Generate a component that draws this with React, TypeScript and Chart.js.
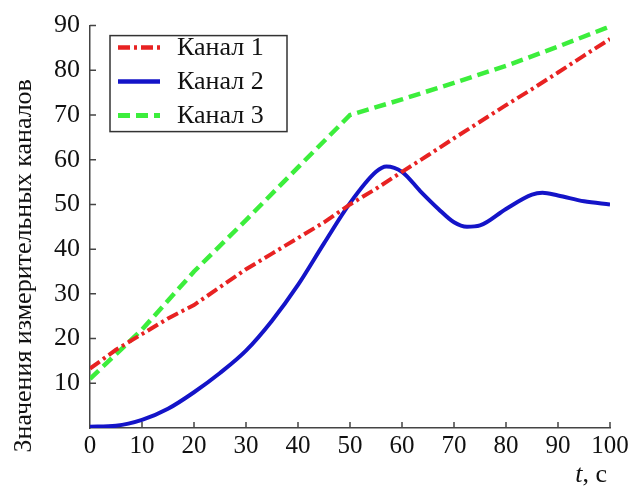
import { useEffect, useRef } from 'react';
import { Chart, registerables } from 'chart.js';

Chart.register(...registerables);

// Time grid, s
const tRed = [0, 5, 10, 15, 20, 25, 30, 35, 40, 45, 50, 55, 60, 65, 70, 75, 80, 85, 90, 95, 100];
const channel1 = [13.3, 17.5, 21, 24.5, 27.5, 31.5, 35.5, 39, 42.5, 46, 50, 53.5, 57.3, 61, 64.8, 68.5, 72.2, 75.8, 79.5, 83.3, 87];

const tBlue = [0, 5, 10, 15, 20, 25, 30, 35, 40, 45, 50, 55, 57, 60, 63.5, 67, 70, 72.5, 75, 80, 85, 87, 90, 95, 100];
const channel2 = [0.3, 0.5, 1.8, 4.3, 8, 12.3, 17.3, 24, 32, 41.3, 50.3, 57.3, 58.5, 57.3, 53, 49, 46, 45, 45.3, 49, 52.2, 52.6, 52, 50.7, 50];

const tGreen = [0, 10, 20, 30, 40, 50, 60, 70, 80, 90, 100];
const channel3 = [11, 22, 35, 46.5, 58.3, 70, 73.5, 77.2, 81, 85.3, 89.8];

const seriesNames = ['Канал 1', 'Канал 2', 'Канал 3'];
const xTicks = [0, 10, 20, 30, 40, 50, 60, 70, 80, 90, 100];
const yTicks = [10, 20, 30, 40, 50, 60, 70, 80, 90];

const yTitle = 'Значения измерительных каналов';

const SERIF = '"Liberation Serif", "DejaVu Serif", serif';
const AXIS_COLOR = '#444';
const TEXT_SIZE = 26;

const toPoints = (xs: number[], ys: number[]) => xs.map((x, i) => ({ x, y: ys[i] }));

// Inward tick marks, axis titles and a framed legend inside the plot area
const decorations = {
  id: 'decorations',
  afterDraw(chart: any) {
    const { ctx, chartArea, scales } = chart;
    const xs = scales.x;
    const ys = scales.y;
    ctx.save();

    // tick marks pointing into the plot
    ctx.strokeStyle = AXIS_COLOR;
    ctx.lineWidth = 1.5;
    ctx.beginPath();
    xTicks.forEach((v) => {
      if (v === 0) return;
      const px = xs.getPixelForValue(v);
      ctx.moveTo(px, chartArea.bottom);
      ctx.lineTo(px, chartArea.bottom - 6);
    });
    yTicks.forEach((v) => {
      const py = ys.getPixelForValue(v);
      ctx.moveTo(chartArea.left, py);
      ctx.lineTo(chartArea.left + 6, py);
    });
    ctx.stroke();

    // y axis title
    ctx.fillStyle = '#111';
    ctx.font = `${TEXT_SIZE}px ${SERIF}`;
    ctx.textAlign = 'center';
    ctx.textBaseline = 'middle';
    ctx.save();
    ctx.translate(24, (chartArea.top + chartArea.bottom) / 2 + 39);
    ctx.rotate(-Math.PI / 2);
    ctx.fillText(yTitle, 0, 0);
    ctx.restore();

    // x axis title: italic t, upright ", с"
    ctx.textBaseline = 'alphabetic';
    ctx.textAlign = 'left';
    ctx.font = `${TEXT_SIZE}px ${SERIF}`;
    const rest = ', с';
    const restW = ctx.measureText(rest).width;
    ctx.font = `italic ${TEXT_SIZE}px ${SERIF}`;
    const tW = ctx.measureText('t').width;
    const xEnd = chartArea.right - 3;
    const base = chartArea.bottom + 54;
    ctx.fillText('t', xEnd - restW - tW, base);
    ctx.font = `${TEXT_SIZE}px ${SERIF}`;
    ctx.fillText(rest, xEnd - restW, base);

    // legend
    const bx = chartArea.left + 20;
    const by = chartArea.top + 10;
    const bw = 177;
    const bh = 96;
    ctx.fillStyle = '#fff';
    ctx.fillRect(bx, by, bw, bh);
    ctx.strokeStyle = '#333';
    ctx.lineWidth = 1.5;
    ctx.strokeRect(bx, by, bw, bh);
    chart.data.datasets.forEach((ds: any, i: number) => {
      const ry = by + 12 + i * 34;
      ctx.save();
      ctx.strokeStyle = ds.borderColor;
      ctx.lineWidth = ds.borderWidth + 0.5;
      ctx.setLineDash(ds.borderDash || []);
      ctx.beginPath();
      ctx.moveTo(bx + 8, ry);
      ctx.lineTo(bx + 50, ry);
      ctx.stroke();
      ctx.restore();
      ctx.fillStyle = '#111';
      ctx.font = `${TEXT_SIZE}px ${SERIF}`;
      ctx.textAlign = 'left';
      ctx.textBaseline = 'middle';
      ctx.fillText(ds.label, bx + 67, ry + 1);
    });

    ctx.restore();
  },
};

export default function App() {
  const canvasRef = useRef<HTMLCanvasElement | null>(null);

  useEffect(() => {
    const canvas = canvasRef.current;
    if (!canvas) return;
    const chart = new Chart(canvas, {
      type: 'line',
      data: {
        datasets: [
          {
            label: seriesNames[0],
            data: toPoints(tRed, channel1),
            borderColor: '#e82222',
            borderWidth: 4,
            borderDash: [12, 4, 3, 4],
            pointRadius: 0,
            tension: 0,
          },
          {
            label: seriesNames[1],
            data: toPoints(tBlue, channel2),
            borderColor: '#1414c8',
            borderWidth: 4,
            pointRadius: 0,
            cubicInterpolationMode: 'monotone',
          },
          {
            label: seriesNames[2],
            data: toPoints(tGreen, channel3),
            borderColor: '#3cee3c',
            borderWidth: 4.5,
            borderDash: [12, 6],
            pointRadius: 0,
            tension: 0,
          },
        ],
      },
      options: {
        responsive: false,
        animation: false,
        layout: { padding: { top: 18, right: 31, left: 0, bottom: 0 } },
        plugins: {
          legend: { display: false },
          tooltip: { enabled: false },
        },
        scales: {
          x: {
            type: 'linear',
            min: 0,
            max: 100,
            afterBuildTicks: (scale: any) => {
              scale.ticks = xTicks.map((value) => ({ value }));
            },
            ticks: {
              color: '#111',
              font: { family: SERIF, size: 25 },
              padding: 3,
              maxRotation: 0,
              autoSkip: false,
            },
            grid: { display: false, drawTicks: false },
            border: { display: true, color: AXIS_COLOR, width: 1.5 },
            afterFit: (scale: any) => {
              scale.height = 58;
            },
          },
          y: {
            type: 'linear',
            min: 0,
            max: 90,
            afterBuildTicks: (scale: any) => {
              scale.ticks = yTicks.map((value) => ({ value }));
            },
            ticks: {
              color: '#111',
              font: { family: SERIF, size: 26 },
              padding: 10,
              autoSkip: false,
            },
            grid: { display: false, drawTicks: false },
            border: { display: true, color: AXIS_COLOR, width: 1.5 },
            afterFit: (scale: any) => {
              scale.width = 90;
            },
          },
        },
      },
      plugins: [decorations],
    });
    return () => chart.destroy();
  }, []);

  return (
    <div style={{ position: 'absolute', left: 0, top: 0, width: 641, height: 486, background: '#fff' }}>
      <canvas ref={canvasRef} width={641} height={486} />
    </div>
  );
}
